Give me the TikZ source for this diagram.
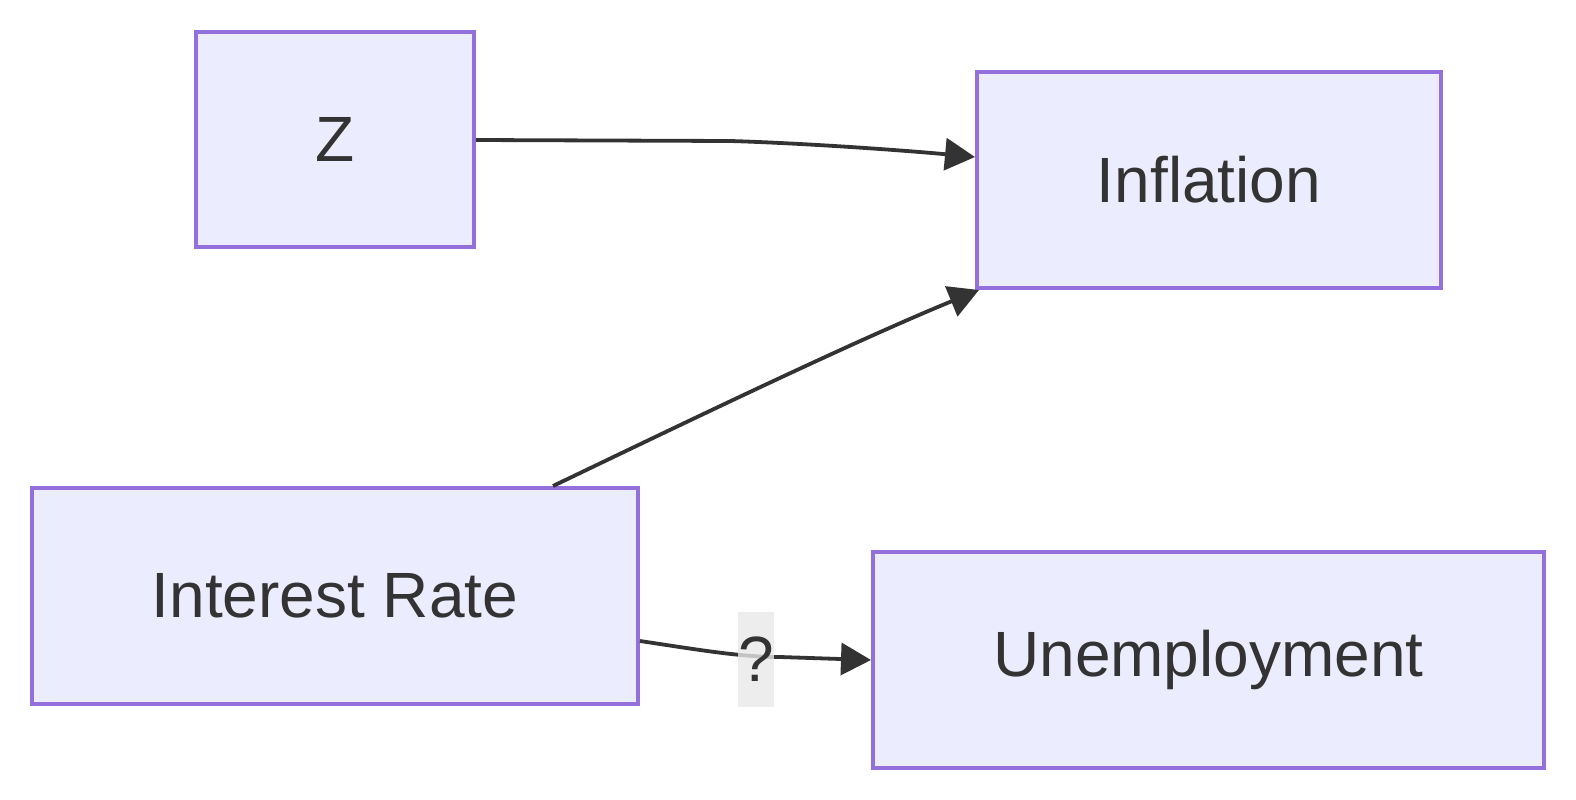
\documentclass[tikz,border=0pt]{standalone}
\usepackage{fontspec}
\setmainfont{Liberation Sans}
\usetikzlibrary{arrows.meta,calc}
\definecolor{boxfill}{HTML}{ECECFF}
\definecolor{boxline}{HTML}{9370DB}
\definecolor{ink}{HTML}{333333}
\definecolor{lblbg}{HTML}{E8E8E8}
\tikzset{
  box/.style={draw=boxline, fill=boxfill, line width=4pt, text=ink, inner sep=0pt,
    font=\fontsize{64}{70}\selectfont},
  conn/.style={draw=ink, line width=3.8pt, -{Triangle[length=30pt,width=32pt]}},
  lbl/.style={fill=lblbg, fill opacity=0.8, text opacity=1, text=ink, inner sep=0pt,
    minimum width=36pt, minimum height=95pt, font=\fontsize{64}{70}\selectfont}
}
\begin{document}
\begin{tikzpicture}[x=1pt,y=-1pt]
\useasboundingbox (0,0) rectangle (1576,800);
\node[box, minimum width=278pt, minimum height=215pt] (Z) at (335,139.5) {Z};
\node[box, minimum width=464pt, minimum height=216pt] (Inf) at (1209,180) {Inflation};
\node[box, minimum width=606pt, minimum height=216pt] (IR) at (335,596) {Interest Rate};
\node[box, minimum width=671pt, minimum height=216pt] (Un) at (1208.5,660) {Unemployment};
\coordinate (zs) at ($(Z.east)+(0,0.5)$);
\coordinate (ie) at ($(Inf.west)+(0,-23)$);
\coordinate (irt) at ($(IR.north)+(218,0)$);
\coordinate (ic) at ($(Inf.south west)+(4,0)$);
\coordinate (irr) at ($(IR.east)+(0,45)$);
\draw[conn] (zs) -- (730,141) .. controls (800,143) and (900,150) .. (ie);
\draw[conn] (irt) .. controls (680,425) and (850,343) .. (ic);
\draw[conn] (irr) .. controls (700,650) and (740,657) .. (780,657) -- (Un.west);
\node[lbl] (q) at (756,659.5) {?};
\end{tikzpicture}
\end{document}
